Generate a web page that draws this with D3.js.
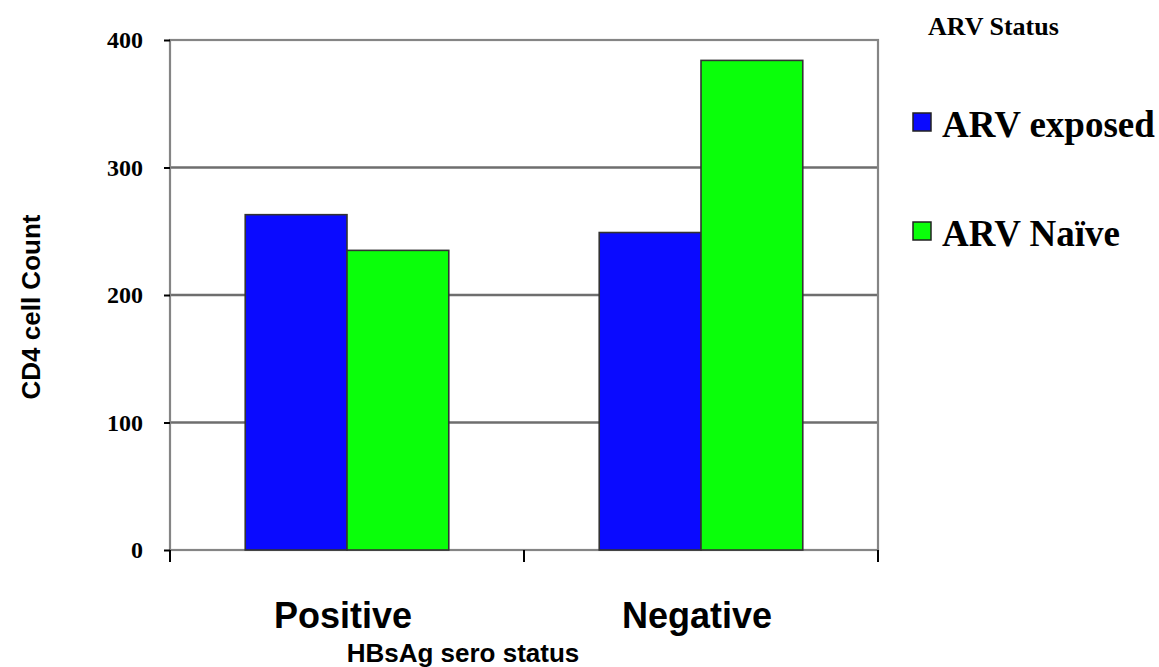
<!DOCTYPE html>
<html>
<head>
<meta charset="utf-8">
<script src="https://cdn.jsdelivr.net/npm/d3@7"></script>
<style>
  html, body { margin: 0; padding: 0; background: #fff; }
  svg { display: block; }
</style>
</head>
<body>
<svg id="chart" width="1159" height="667"></svg>
<script>
const categories = ["Positive", "Negative"];
const seriesNames = ["ARV exposed", "ARV Naïve"];
const arvExposed = [263, 249];
const arvNaive = [235, 384];
const yTicks = [0, 100, 200, 300, 400];
const colors = ["#0a0aff", "#0aff0a"];

const svg = d3.select("#chart");
const L = 170, R = 878, T = 40, B = 550;

const x0 = d3.scaleBand().domain(categories).range([L, R])
  .paddingInner(0.425).paddingOuter(0.2125);
const x1 = d3.scaleBand().domain(seriesNames).range([0, x0.bandwidth()]).padding(0);
const y = d3.scaleLinear().domain([0, 400]).range([B, T]);

// gridlines
svg.append("g").selectAll("line").data(yTicks.filter(d => d > 0 && d < 400)).join("line")
  .attr("x1", L).attr("x2", R).attr("y1", d => y(d)).attr("y2", d => y(d))
  .attr("stroke", "#6e6e6e").attr("stroke-width", 2.4);

// frame
svg.append("rect").attr("x", L).attr("y", T).attr("width", R - L).attr("height", B - T)
  .attr("fill", "none").attr("stroke", "#858585").attr("stroke-width", 2.2);

// bars
const rows = categories.map((c, i) => ({ cat: c, vals: [arvExposed[i], arvNaive[i]] }));
const groups = svg.append("g").selectAll("g").data(rows).join("g")
  .attr("transform", d => `translate(${x0(d.cat)},0)`);
groups.selectAll("rect").data(d => d.vals.map((v, j) => ({ s: seriesNames[j], v, j }))).join("rect")
  .attr("x", d => x1(d.s)).attr("width", x1.bandwidth())
  .attr("y", d => y(d.v)).attr("height", d => y(0) - y(d.v))
  .attr("fill", d => colors[d.j]).attr("stroke", "#333").attr("stroke-width", 1.6);

// y axis ticks + labels
const yAxis = d3.axisLeft(y).tickValues(yTicks).tickSize(6).tickPadding(21).tickFormat(d3.format("d"));
const yg = svg.append("g").attr("transform", `translate(${L},0)`).call(yAxis);
yg.select(".domain").remove();
yg.selectAll(".tick line").attr("stroke", "#000").attr("stroke-width", 2);
yg.selectAll(".tick text").attr("font-family", "'Liberation Serif', 'Times New Roman', serif")
  .attr("font-weight", "bold").attr("font-size", 24).attr("fill", "#000").attr("dy", "0.33em");

// x axis ticks (boundaries)
const xTickPos = [L, (L + R) / 2, R];
svg.append("g").selectAll("line").data(xTickPos).join("line")
  .attr("x1", d => d).attr("x2", d => d).attr("y1", B).attr("y2", B + 12)
  .attr("stroke", "#000").attr("stroke-width", 2);

// category labels
svg.append("g").selectAll("text").data(categories).join("text")
  .attr("x", d => x0(d) + x0.bandwidth() / 2 - 4).attr("y", 628)
  .attr("text-anchor", "middle")
  .attr("font-family", "'Liberation Sans', Arial, sans-serif").attr("font-weight", "bold")
  .attr("font-size", 36).attr("fill", "#000").text(d => d);

// x title
svg.append("text").attr("x", 463).attr("y", 662).attr("text-anchor", "middle")
  .attr("font-family", "'Liberation Sans', Arial, sans-serif").attr("font-weight", "bold")
  .attr("font-size", 26).attr("fill", "#000").text("HBsAg sero status");

// y title
svg.append("text").attr("transform", "translate(40,307) rotate(-90)").attr("text-anchor", "middle")
  .attr("font-family", "'Liberation Sans', Arial, sans-serif").attr("font-weight", "bold")
  .attr("font-size", 26).attr("fill", "#000").text("CD4 cell Count");

// legend
svg.append("text").attr("x", 928).attr("y", 35)
  .attr("font-family", "'Liberation Serif', 'Times New Roman', serif").attr("font-weight", "bold")
  .attr("font-size", 26).attr("fill", "#000").text("ARV Status");

const legY = [137, 246];
const lg = svg.append("g").selectAll("g").data(seriesNames).join("g")
  .attr("transform", (d, i) => `translate(913,${legY[i]})`);
lg.append("rect").attr("x", 0).attr("y", -24).attr("width", 18).attr("height", 18)
  .attr("fill", (d, i) => colors[i]).attr("stroke", "#222").attr("stroke-width", 1.5);
lg.append("text").attr("x", 29).attr("y", 0)
  .attr("font-family", "'Liberation Serif', 'Times New Roman', serif").attr("font-weight", "bold")
  .attr("font-size", 37).attr("fill", "#000").text(d => d);
</script>
</body>
</html>
